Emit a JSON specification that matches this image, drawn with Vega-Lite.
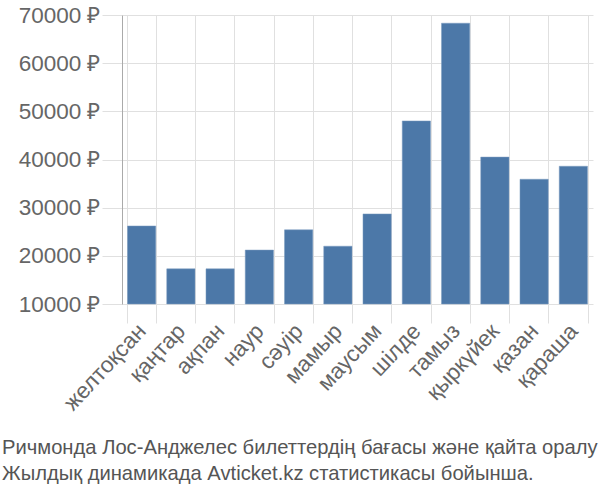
{
  "$schema": "https://vega.github.io/schema/vega-lite/v6.json",
  "width": 471,
  "height": 289,
  "autosize": {"type": "none"},
  "padding": {"left": 122, "top": 15, "right": 7, "bottom": 196},
  "background": "white",
  "data": {"values": [
    {"month": "желтоқсан", "price": 26200},
    {"month": "қаңтар", "price": 17300},
    {"month": "ақпан", "price": 17300},
    {"month": "наур", "price": 21200},
    {"month": "сәуір", "price": 25400},
    {"month": "мамыр", "price": 22000},
    {"month": "маусым", "price": 28700},
    {"month": "шілде", "price": 48000},
    {"month": "тамыз", "price": 68300},
    {"month": "қыркүйек", "price": 40500},
    {"month": "қазан", "price": 35900},
    {"month": "қараша", "price": 38600}
  ]},
  "title": {
    "text": ["Ричмонда Лос-Анджелес билеттердің бағасы және қайта оралу", "Жылдық динамикада Avticket.kz статистикасы бойынша."],
    "orient": "bottom",
    "anchor": "start",
    "frame": "group",
    "dx": -120,
    "offset": 24,
    "font": "Liberation Sans",
    "fontSize": 20.2,
    "fontWeight": "normal",
    "color": "#555",
    "lineHeight": 26
  },
  "config": {
    "view": {"stroke": null},
    "axis": {"labelFont": "Liberation Sans", "labelColor": "#666", "gridColor": "#e0e0e0", "tickColor": "#e0e0e0"}
  },
  "mark": {"type": "bar", "color": "#4c78a8", "stroke": "#7d9cc0", "strokeWidth": 0.5},
  "encoding": {
    "x": {
      "field": "month",
      "type": "nominal",
      "sort": null,
      "scale": {"paddingInner": 0.28, "paddingOuter": 0.14},
      "axis": {
        "title": null,
        "labelAngle": -47,
        "labelFontSize": 22.5,
        "labelPadding": 4,
        "tickBand": "extent",
        "grid": true,
        "tickSize": 19,
        "domain": false
      }
    },
    "y": {
      "field": "price",
      "type": "quantitative",
      "scale": {"domain": [10000, 70000], "zero": false, "nice": false},
      "axis": {
        "title": null,
        "values": [10000, 20000, 30000, 40000, 50000, 60000, 70000],
        "labelExpr": "datum.value + ' ₽'",
        "labelFontSize": 22.5,
        "labelPadding": 2,
        "tickSize": 20,
        "domainColor": "#aaa",
        "grid": true
      }
    },
    "y2": {"datum": 10000}
  }
}
